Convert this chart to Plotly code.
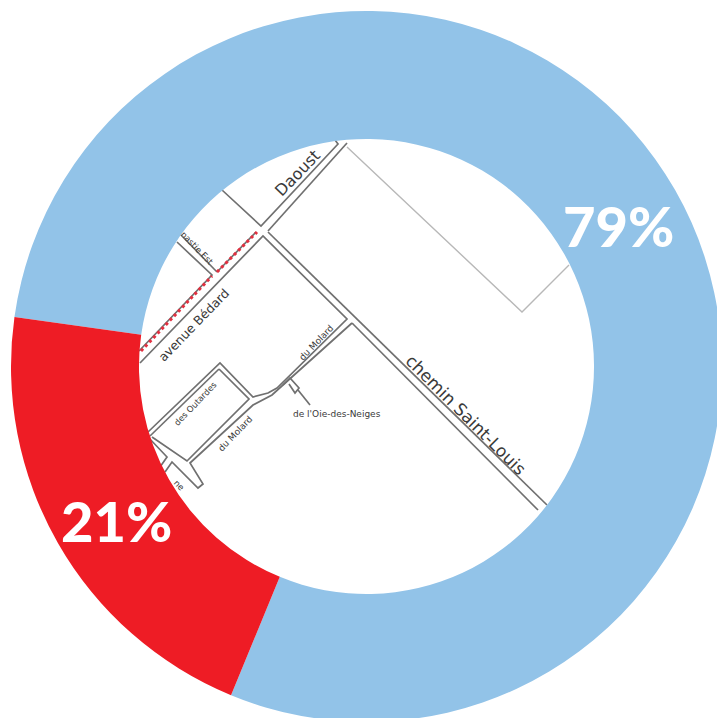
import plotly.graph_objects as go

# Chart data
categories = ["Reste", "Tronçon"]
values = [79, 21]
slice_colors = ["#92C3E8", "#EE1C25"]

# Street map behind the hole of the ring (page pixels)
street_lines = [
    [(140, 363), (263, 236), (347, 319), (277, 388), (268, 393), (253, 397), (220, 363), (148, 432)],
    [(219, 369), (249, 399), (187, 461), (152, 437)],
    [(219, 369), (150, 436)],
    [(352, 323), (290, 378), (283, 385), (272, 395), (253, 405), (190, 463), (203, 484), (198, 488), (172, 462), (165, 472)],
    [(148, 437), (167, 457), (160, 467)],
    [(352, 323), (538, 510)],
    [(268, 232), (547, 505)],
    [(139, 351), (212, 275), (177, 242)],
    [(217, 272), (181, 235)],
    [(217, 272), (256, 232)],
    [(222, 190), (261, 226), (338, 144), (335, 140)],
    [(268, 231), (347, 143)],
    [(283, 385), (290, 378), (299, 388), (295, 393), (289, 384)],
    [(298, 390), (310, 405)],
]
lot_line = [(347, 147), (522, 312), (569, 265)]
red_segments = [[(141, 351), (212, 276)], [(217, 272), (257, 232)]]

street_labels = ["Daoust", "avenue Bédard", "chemin Saint-Louis", "nastie Est", "du Molard",
                 "des Outardes", "du Molard", "de l'Oie-des-Neiges", "ne"]
label_x = [297, 193, 466, 197, 316, 195, 235, 337, 179]
label_y = [173, 325, 415, 248, 343, 404, 434, 414, 485]
label_angle = [-46, -46, 45, 46, -46, -46, -46, 0, 46]
label_size = [16, 12.5, 17, 8.5, 9, 8.5, 9, 9, 8.5]

value_label_x = [618, 116]
value_label_y = [225, 520]

fig = go.Figure()


def add_line(points, color, width, dash="solid"):
    fig.add_trace(go.Scatter(
        x=[p[0] for p in points], y=[p[1] for p in points], mode="lines",
        line=dict(color=color, width=width, dash=dash),
        hoverinfo="skip", showlegend=False))


for street in street_lines:
    add_line(street, "#707070", 1.7)
add_line(lot_line, "#B8B8B8", 1.4)
for segment in red_segments:
    add_line(segment, "#E23040", 3, "3px,3px")

fig.add_trace(go.Pie(
    labels=categories, values=values, hole=0.64, sort=False, direction="clockwise",
    rotation=278, textinfo="none", hoverinfo="skip", showlegend=False,
    marker=dict(colors=slice_colors, line=dict(width=0))))

annotations = []
for text, x, y, angle, size in zip(street_labels, label_x, label_y, label_angle, label_size):
    annotations.append(dict(x=x, y=y, xref="x", yref="y", text=text, textangle=angle, showarrow=False,
                            font=dict(family="DejaVu Sans", size=size, color="#3A3A3A")))
for v, x, y in zip(values, value_label_x, value_label_y):
    annotations.append(dict(x=x, y=y, xref="x", yref="y", text=f"{v}%", showarrow=False,
                            font=dict(family="Lato", size=56, color="white", weight=900)))

fig.update_layout(
    width=733, height=733, margin=dict(l=11, r=11, t=11, b=11),
    paper_bgcolor="white", plot_bgcolor="white", showlegend=False,
    xaxis=dict(range=[11, 722], visible=False, fixedrange=True),
    yaxis=dict(range=[722, 11], visible=False, fixedrange=True),
    annotations=annotations)

fig.write_html("out.html", config={"displayModeBar": False},
               post_script="document.body.style.margin='0';document.body.style.overflow='hidden';document.documentElement.style.overflow='hidden';")
